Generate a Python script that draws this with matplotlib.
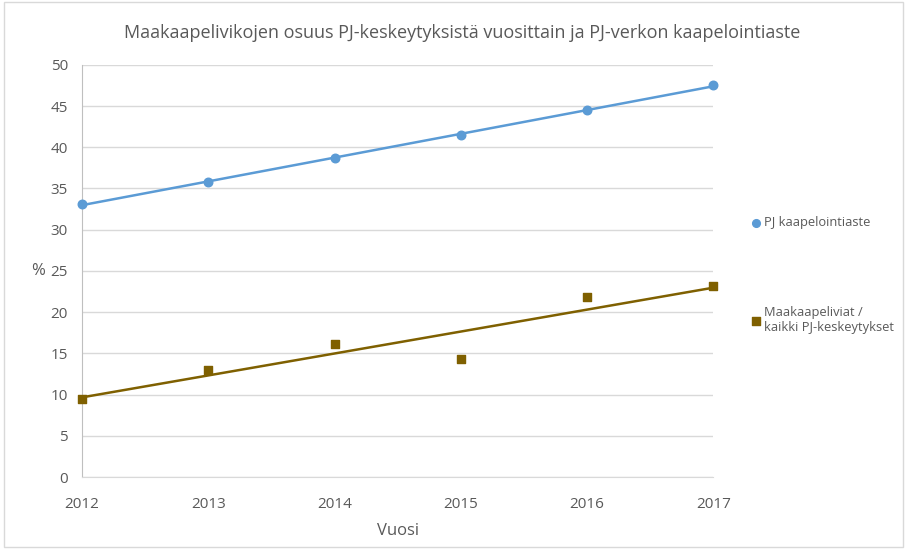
import numpy as np
import matplotlib.pyplot as plt

plt.rcParams['font.family'] = ['Open Sans', 'DejaVu Sans']

years = [2012, 2013, 2014, 2015, 2016, 2017]
kaapelointiaste = [33.1, 35.8, 38.7, 41.5, 44.5, 47.5]
maakaapeliviat = [9.5, 13.0, 16.1, 14.3, 21.8, 23.2]

blue = '#5B9BD5'
brown = '#7F6000'
grey = '#595959'

fig = plt.figure(figsize=(9.07, 5.49), dpi=100)
fig.patches.append(plt.Rectangle((0.004, 0.004), 0.992, 0.992, transform=fig.transFigure,
                                 fill=False, edgecolor='#d9d9d9', linewidth=1))
ax = fig.add_axes([0.0904, 0.131, 0.696, 0.751])

x = np.array(years)
# linear trend lines
for vals, c in [(kaapelointiaste, blue), (maakaapeliviat, brown)]:
    k, b = np.polyfit(x, vals, 1)
    ax.plot(x, k * x + b, color=c, linewidth=1.8, zorder=2)

ax.scatter(x, kaapelointiaste, color=blue, marker='o', s=38, zorder=3,
           label='PJ kaapelointiaste', clip_on=False)
ax.scatter(x, maakaapeliviat, color=brown, marker='s', s=38, zorder=3,
           label='Maakaapeliviat /\nkaikki PJ-keskeytykset', clip_on=False)

ax.set_xlim(2012, 2017)
ax.set_ylim(0, 50)
ax.set_yticks(range(0, 51, 5))
ax.set_xticks(years)
ax.grid(axis='y', color='#d9d9d9', linewidth=1)
ax.set_axisbelow(True)
for s in ['top', 'right']:
    ax.spines[s].set_visible(False)
ax.spines['left'].set_color('#bfbfbf')
ax.spines['bottom'].set_color('#d9d9d9')
ax.tick_params(length=0, colors=grey, labelsize=11)
ax.tick_params(axis='x', pad=14)
ax.tick_params(axis='y', pad=10)

fig.suptitle('Maakaapelivikojen osuus PJ-keskeytyksistä vuosittain ja PJ-verkon kaapelointiaste',
             fontsize=13, color=grey, x=0.51, y=0.94, va='center')
ax.set_xlabel('Vuosi', fontsize=12, color=grey, labelpad=8)
ax.set_ylabel('%', fontsize=12, color=grey, rotation=0, va='center')
ax.yaxis.set_label_coords(-0.07, 0.5)

ax.legend(loc='upper left', bbox_to_anchor=(1.05, 0.645), frameon=False,
          labelspacing=5.9, handletextpad=0.1, fontsize=9.3, labelcolor=grey,
          handlelength=1, markerscale=0.9, borderaxespad=0)

fig.savefig('out.png', dpi=100)
